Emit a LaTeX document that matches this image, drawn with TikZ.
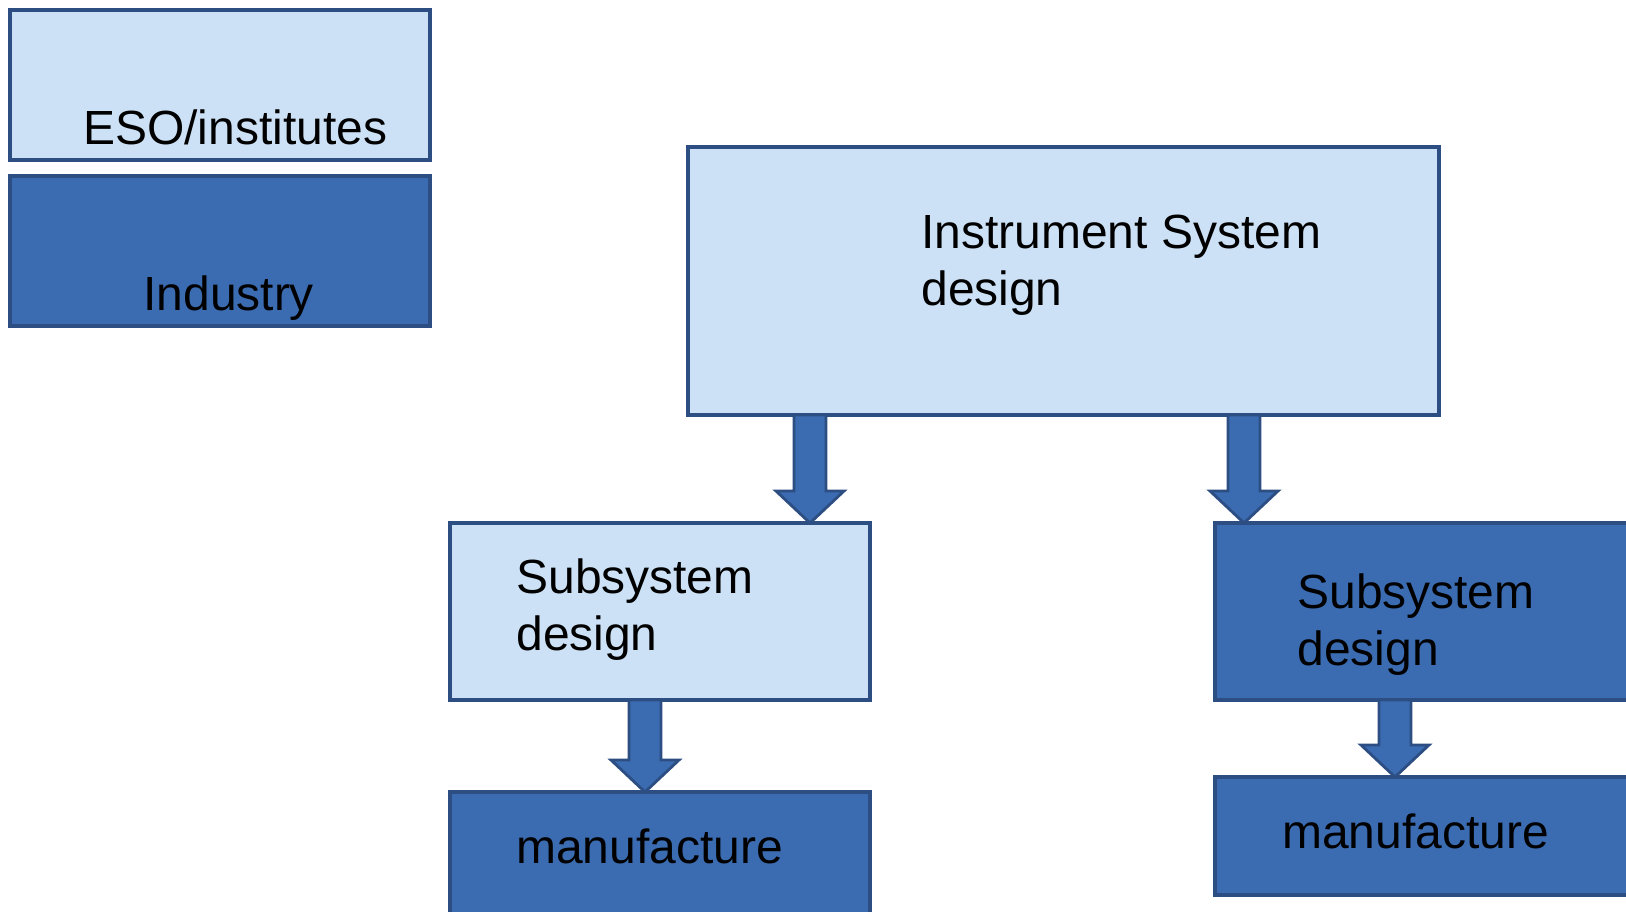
\documentclass[tikz,border=0pt]{standalone}
\usepackage{fontspec}
\setmainfont{Liberation Sans}
\usetikzlibrary{calc}
\definecolor{esofill}{RGB}{204,225,245}
\definecolor{indfill}{RGB}{59,108,178}
\definecolor{rim}{RGB}{44,78,130}
\tikzset{
box/.style={draw=rim, line width=2.4pt, rectangle, inner sep=0pt, outer sep=0pt, anchor=north west},
esobox/.style={box, fill=esofill},
indbox/.style={box, fill=indfill},
lbl/.style={anchor=base west, align=left, inner sep=0pt, font=\fontsize{27.3}{32.4}\selectfont},
fatarrow/.style={draw=rim, fill=indfill, line width=1.6pt, line join=miter},
}
\newcommand{\blockarrow}[2]{%
  \draw[fatarrow] ($(#1)+(-16,0)$) -- ($(#2)+(-16,-32)$) -- ($(#2)+(-34,-32)$) -- (#2)
    -- ($(#2)+(34,-32)$) -- ($(#2)+(16,-32)$) -- ($(#1)+(16,0)$) -- cycle;}

\begin{document}
\begin{tikzpicture}[x=0.02cm, y=-0.02cm]
  \useasboundingbox (0,0) rectangle (1626,912);
  % legend
  \node[esobox, minimum width=420*0.02cm, minimum height=150*0.02cm] (eso) at (10,10) {};
  \node[indbox, minimum width=420*0.02cm, minimum height=150*0.02cm] (ind) at (10,176) {};
  % tree
  \node[esobox, minimum width=751*0.02cm, minimum height=268*0.02cm] (sys) at (688,147) {};
  \node[esobox, minimum width=420*0.02cm, minimum height=177*0.02cm] (sub1) at (450,523) {};
  \node[indbox, minimum width=420*0.02cm, minimum height=160*0.02cm] (man1) at (450,792) {};
  \node[indbox, minimum width=450*0.02cm, minimum height=177*0.02cm] (sub2) at (1215,523) {};
  \node[indbox, minimum width=450*0.02cm, minimum height=118*0.02cm] (man2) at (1215,777) {};

  \coordinate (a1top) at ($(sys.south west)+(122,0)$);
  \coordinate (a1tip) at ($(sub1.north west)+(360,0)$);
  \coordinate (a2top) at ($(sys.south west)+(556,0)$);
  \coordinate (a2tip) at ($(sub2.north west)+(29,0)$);
  \coordinate (a3top) at ($(sub1.south west)+(195,0)$);
  \coordinate (a3tip) at ($(man1.north west)+(195,0)$);
  \coordinate (a4top) at ($(sub2.south west)+(180,0)$);
  \coordinate (a4tip) at ($(man2.north west)+(180,0)$);
  \blockarrow{a1top}{a1tip}
  \blockarrow{a2top}{a2tip}
  \blockarrow{a3top}{a3tip}
  \blockarrow{a4top}{a4tip}

  % base west of a two-line node sits on its last line
  \node[lbl] (esolbl) at (83,145) {ESO/institutes};
  \node[lbl] (indlbl) at (143,310) {Industry};
  \node[lbl] (syslbl) at (921,305) {Instrument System\\design};
  \node[lbl] (sub1lbl) at (516,650) {Subsystem\\design};
  \node[lbl] (man1lbl) at (516,863) {manufacture};
  \node[lbl] (sub2lbl) at (1297,665) {Subsystem\\design};
  \node[lbl] (man2lbl) at (1282,848) {manufacture};
\end{tikzpicture}
\end{document}
